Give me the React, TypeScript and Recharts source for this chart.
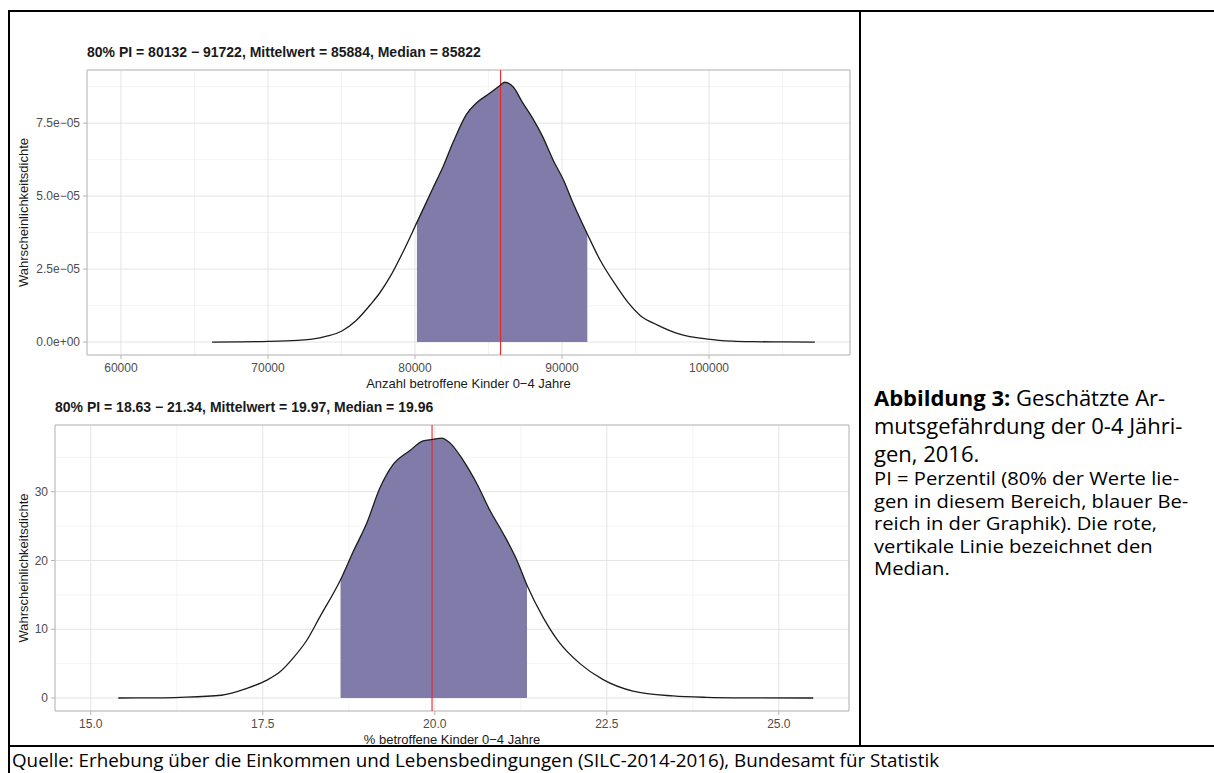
import React from "react";
import {
  Area,
  CartesianGrid,
  ComposedChart,
  Line,
  ReferenceArea,
  ReferenceLine,
  XAxis,
  YAxis,
} from "recharts";

// Oberes Panel: Anzahl betroffene Kinder 0-4 Jahre
const anzahlX = [
  66200, 68000, 70000, 72000, 73000, 74000, 75000, 76000, 77000, 77600, 78300, 79200, 80132,
  81200, 81900, 82600, 83500, 84200, 85100, 85800, 86100, 86700, 87300, 88000, 88700, 89400,
  90100, 90750, 91722, 92600, 93750, 94500, 95300, 96500, 98000, 99900, 101600, 103000, 105000,
  107200,
];
const anzahlDichte = [
  0, 0.005e-5, 0.02e-5, 0.06e-5, 0.1e-5, 0.2e-5, 0.37e-5, 0.74e-5, 1.3e-5, 1.68e-5, 2.23e-5,
  3.1e-5, 4.1e-5, 5.25e-5, 6.0e-5, 6.85e-5, 7.8e-5, 8.2e-5, 8.53e-5, 8.8e-5, 8.9e-5, 8.73e-5,
  8.22e-5, 7.67e-5, 7.02e-5, 6.23e-5, 5.55e-5, 4.76e-5, 3.7e-5, 2.8e-5, 1.88e-5, 1.35e-5, 0.92e-5,
  0.58e-5, 0.27e-5, 0.1e-5, 0.03e-5, 0.012e-5, 0.004e-5, 0,
];
const anzahlPI = [80132, 91722];
const anzahlMittel = 85884;
const anzahlMedian = 85822;
const anzahlXTicks = [60000, 70000, 80000, 90000, 100000];
const anzahlXMinor = [65000, 75000, 85000, 95000, 105000];
const anzahlYTicks = [0, 2.5e-5, 5e-5, 7.5e-5];
const anzahlYMinor = [1.25e-5, 3.75e-5, 6.25e-5, 8.75e-5];
const anzahlXDomain = [57690, 109590];
const anzahlYDomain = [-0.444e-5, 9.32e-5];

// Unteres Panel: % betroffene Kinder 0-4 Jahre
const anteilX = [
  15.4, 16.0, 16.3, 16.9, 17.27, 17.56, 17.75, 17.94, 18.14, 18.33, 18.63, 18.81, 19.01, 19.2,
  19.39, 19.64, 19.83, 19.97, 20.1, 20.22, 20.41, 20.61, 20.8, 20.99, 21.19, 21.34, 21.57, 21.8,
  22.11, 22.44, 22.88, 23.46, 23.95, 24.5, 25.5,
];
const anteilDichte = [
  0, 0.03, 0.1, 0.4, 1.4, 2.6, 3.8, 5.8, 8.4, 11.8, 17.2, 21.2, 25.4, 30.5, 33.9, 36.0, 37.4,
  37.6, 37.8, 37.1, 34.6, 31.2, 27.3, 24.0, 20.1, 16.4, 11.8, 8.2, 5.0, 2.7, 1.0, 0.3, 0.1, 0.03, 0,
];
const anteilPI = [18.63, 21.34];
const anteilMittel = 19.97;
const anteilMedian = 19.96;
const anteilXTicks = [15, 17.5, 20, 22.5, 25];
const anteilXMinor = [16.25, 18.75, 21.25, 23.75];
const anteilYTicks = [0, 10, 20, 30];
const anteilYMinor = [5, 15, 25, 35];
const anteilXDomain = [14.48, 26.02];
const anteilYDomain = [-1.89, 39.7];

const captionLines = ["Abbildung 3:", " Geschätzte Ar-", "mutsgefährdung der 0-4 Jähri-", "gen, 2016."];
const noteLines = [
  "PI = Perzentil (80% der Werte lie-",
  "gen in diesem Bereich, blauer Be-",
  "reich in der Graphik). Die rote,",
  "vertikale Linie bezeichnet den",
  "Median.",
];
const quelle =
  "Quelle: Erhebung über die Einkommen und Lebensbedingungen (SILC-2014-2016), Bundesamt für Statistik";

const PLOT_FONT = "'Liberation Sans', Arial, sans-serif";
const DOC_FONT = "'Open Sans', Lato, sans-serif";
const FILL = "#807ba8";

type Row = { x: number; d: number; pi: number | null };

function buildRows(xs: number[], ds: number[], pi: number[]): Row[] {
  return xs.map((x, i) => ({
    x,
    d: ds[i],
    pi: x >= pi[0] && x <= pi[1] ? ds[i] : null,
  }));
}

function sci(v: number) {
  if (v === 0) return "0.0e+00";
  const e = Math.floor(Math.log10(Math.abs(v)) + 1e-9);
  const m = (v / Math.pow(10, e)).toFixed(1);
  const sign = e < 0 ? "−" : "+";
  return `${m}e${sign}${String(Math.abs(e)).padStart(2, "0")}`;
}

type PanelProps = {
  title: string;
  rows: Row[];
  xDomain: number[];
  yDomain: number[];
  xTicks: number[];
  xMinor: number[];
  yTicks: number[];
  yMinor: number[];
  median: number;
  xLabel: string;
  xFmt: (v: number) => string;
  yFmt: (v: number) => string;
  top: number;
  marginLeft: number;
  yAxisWidth: number;
  marginRight: number;
  xAxisHeight: number;
  titleLeft: number;
};

function DensityPanel(p: PanelProps) {
  const tickStyle = { fontSize: 12, fill: "#4d4d4d", fontFamily: PLOT_FONT };
  return (
    <>
      <div
        style={{
          position: "absolute",
          left: p.titleLeft,
          top: p.top + 4,
          fontFamily: PLOT_FONT,
          fontWeight: "bold",
          fontSize: 14,
          lineHeight: "16px",
          color: "#1a1a1a",
          whiteSpace: "nowrap",
        }}
      >
        {p.title}
      </div>
      <div style={{ position: "absolute", left: 0, top: p.top }}>
        <ComposedChart
          width={860}
          height={356}
          data={p.rows}
          margin={{ top: 30, right: p.marginRight, left: p.marginLeft, bottom: 6 }}
        >
          <XAxis xAxisId="minor" type="number" dataKey="x" domain={p.xDomain} ticks={p.xMinor} hide allowDataOverflow />
          <YAxis yAxisId="minor" type="number" domain={p.yDomain} ticks={p.yMinor} hide allowDataOverflow />
          <CartesianGrid xAxisId="minor" yAxisId="minor" stroke="#f1f1f1" strokeWidth={0.8} />
          <CartesianGrid stroke="#e4e4e4" strokeWidth={1} />
          <XAxis
            type="number"
            dataKey="x"
            domain={p.xDomain}
            ticks={p.xTicks}
            interval={0}
            allowDataOverflow
            height={p.xAxisHeight}
            axisLine={false}
            tickSize={4}
            tickMargin={4}
            tickLine={{ stroke: "#b3b3b3" }}
            tick={tickStyle}
            tickFormatter={p.xFmt}
            label={(lp: any) => {
              const vb = lp.viewBox;
              return (
                <text
                  x={vb.x + vb.width / 2}
                  y={vb.y + 32.5}
                  textAnchor="middle"
                  fontSize={13}
                  fill="#1a1a1a"
                  fontFamily={PLOT_FONT}
                >
                  {p.xLabel}
                </text>
              );
            }}
          />
          <YAxis
            type="number"
            domain={p.yDomain}
            ticks={p.yTicks}
            interval={0}
            allowDataOverflow
            width={p.yAxisWidth}
            axisLine={false}
            tickSize={4}
            tickMargin={3}
            tickLine={{ stroke: "#b3b3b3" }}
            tick={tickStyle}
            tickFormatter={p.yFmt}
            label={(lp: any) => {
              const vb = lp.viewBox;
              const cx = 23;
              const cy = vb.y + vb.height / 2;
              return (
                <text
                  x={cx}
                  y={cy}
                  transform={`rotate(-90 ${cx} ${cy})`}
                  textAnchor="middle"
                  dominantBaseline="central"
                  fontSize={13}
                  fill="#1a1a1a"
                  fontFamily={PLOT_FONT}
                >
                  Wahrscheinlichkeitsdichte
                </text>
              );
            }}
          />
          <Area
            type="monotone"
            dataKey="pi"
            baseValue={0}
            fill={FILL}
            fillOpacity={1}
            stroke="none"
            connectNulls={false}
            isAnimationActive={false}
          />
          <ReferenceLine x={p.median} stroke="#e8262b" strokeWidth={1.1} />
          <Line
            type="monotone"
            dataKey="d"
            stroke="#1c1c1c"
            strokeWidth={1.3}
            dot={false}
            activeDot={false}
            isAnimationActive={false}
          />
          <ReferenceArea
            x1={p.xDomain[0]}
            x2={p.xDomain[1]}
            y1={p.yDomain[0]}
            y2={p.yDomain[1]}
            fill="none"
            stroke="#bdbdbd"
            strokeWidth={1}
            ifOverflow="visible"
          />
        </ComposedChart>
      </div>
    </>
  );
}

const line = (left: number, top: number, width: number, height: number) => (
  <div style={{ position: "absolute", left, top, width, height, background: "#000" }} />
);

export default function App() {
  const anzahlRows = buildRows(anzahlX, anzahlDichte, anzahlPI);
  const anteilRows = buildRows(anteilX, anteilDichte, anteilPI);
  return (
    <div
      style={{
        position: "absolute",
        left: 0,
        top: 0,
        width: 1214,
        height: 773,
        background: "#fff",
        overflow: "hidden",
      }}
    >
      <DensityPanel
        title={`80% PI = ${anzahlPI[0]} − ${anzahlPI[1]}, Mittelwert = ${anzahlMittel}, Median = ${anzahlMedian}`}
        rows={anzahlRows}
        xDomain={anzahlXDomain}
        yDomain={anzahlYDomain}
        xTicks={anzahlXTicks}
        xMinor={anzahlXMinor}
        yTicks={anzahlYTicks}
        yMinor={anzahlYMinor}
        median={anzahlMedian}
        xLabel="Anzahl betroffene Kinder 0−4 Jahre"
        xFmt={(v) => String(v)}
        yFmt={sci}
        top={40}
        marginLeft={27}
        yAxisWidth={60}
        marginRight={10}
        xAxisHeight={35}
        titleLeft={87}
      />
      <DensityPanel
        title={`80% PI = ${anteilPI[0]} − ${anteilPI[1]}, Mittelwert = ${anteilMittel}, Median = ${anteilMedian}`}
        rows={anteilRows}
        xDomain={anteilXDomain}
        yDomain={anteilYDomain}
        xTicks={anteilXTicks}
        xMinor={anteilXMinor}
        yTicks={anteilYTicks}
        yMinor={anteilYMinor}
        median={anteilMedian}
        xLabel="% betroffene Kinder 0−4 Jahre"
        xFmt={(v) => v.toFixed(1)}
        yFmt={(v) => String(v)}
        top={395}
        marginLeft={25}
        yAxisWidth={30}
        marginRight={11}
        xAxisHeight={34}
        titleLeft={55}
      />

      {line(8, 10, 1206, 2)}
      {line(8, 10, 2, 763)}
      {line(859, 10, 2, 737)}
      {line(8, 745, 1206, 2)}

      <div
        style={{
          position: "absolute",
          left: 874,
          top: 383,
          fontFamily: DOC_FONT,
          color: "#000",
          whiteSpace: "nowrap",
        }}
      >
        <div style={{ fontSize: 22, lineHeight: "28px" }}>
          <b>{captionLines[0]}</b>
          {captionLines[1]}
          <br />
          {captionLines[2]}
          <br />
          {captionLines[3]}
        </div>
        <div
          style={{
            fontSize: 18,
            lineHeight: "22.5px",
            transform: "scaleX(1.12)",
            transformOrigin: "0 0",
          }}
        >
          {noteLines.map((t) => (
            <div key={t}>{t}</div>
          ))}
        </div>
      </div>

      <div
        style={{
          position: "absolute",
          left: 12,
          top: 749,
          fontFamily: DOC_FONT,
          fontSize: 18.8,
          lineHeight: "22px",
          color: "#000",
          whiteSpace: "nowrap",
        }}
      >
        {quelle}
      </div>
    </div>
  );
}
